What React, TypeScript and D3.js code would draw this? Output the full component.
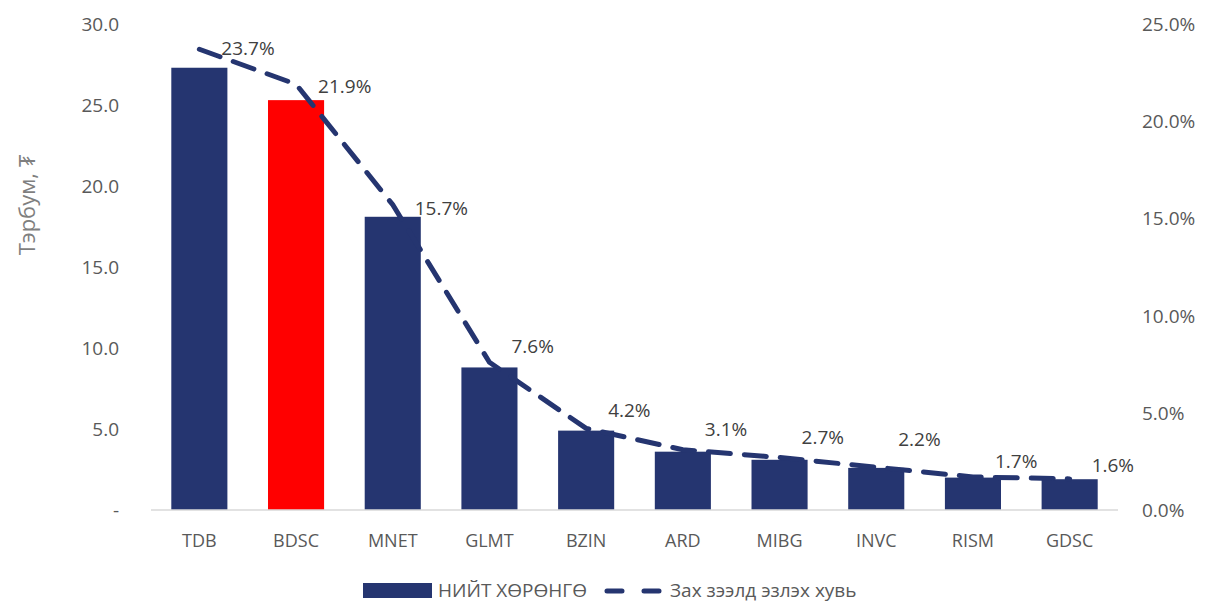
import * as d3 from 'd3';
import React from 'react';

const categories = ['TDB', 'BDSC', 'MNET', 'GLMT', 'BZIN', 'ARD', 'MIBG', 'INVC', 'RISM', 'GDSC'];
const totalAssets = [27.3, 25.3, 18.1, 8.8, 4.9, 3.6, 3.1, 2.6, 2.0, 1.9];
const marketShare = [23.7, 21.9, 15.7, 7.6, 4.2, 3.1, 2.7, 2.2, 1.7, 1.6];
const leftTicks = [0, 5, 10, 15, 20, 25, 30];
const rightTicks = [0, 5, 10, 15, 20, 25];
const highlight = 'BDSC';

const W = 1209;
const H = 603;
const navy = '#253570';
const font = '"Open Sans", "Noto Sans", sans-serif';

// label nudges, Excel places them a bit differently per point
const labelDy = [5, 8, 9, -10, -12, -15, -15, -22, -10, -8];

const App = () => {
  const x = d3.scaleBand<string>().domain(categories).range([151, 1118]).paddingInner(0.42).paddingOuter(0.21);
  const yL = d3.scaleLinear().domain([0, 30]).range([510, 24]);
  const yR = d3.scaleLinear().domain([0, 25]).range([510, 24]);
  const cx = (c: string) => (x(c) ?? 0) + x.bandwidth() / 2;

  const line = d3.line<number>()
    .x((_, i) => cx(categories[i]))
    .y(d => yR(d));

  return (
    <svg width={W} height={H} style={{position: 'absolute', left: 0, top: 0, fontFamily: font}}>
      <rect width={W} height={H} fill="#fff" />
      {/* left axis */}
      {leftTicks.map(t => (
        <text key={'l' + t} x={119} y={yL(t) + 7} textAnchor="end" fontSize={19} fill="#595959">
          {t === 0 ? '-' : t.toFixed(1)}
        </text>
      ))}
      {/* right axis */}
      {rightTicks.map(t => (
        <text key={'r' + t} x={1142} y={yR(t) + 7} textAnchor="start" fontSize={19} fill="#595959">
          {t.toFixed(1) + '%'}
        </text>
      ))}
      <text transform={`translate(35,205) rotate(-90)`} textAnchor="middle" fontSize={22} fill="#7f7f7f">
        Тэрбум, ₮
      </text>
      {/* bars */}
      {categories.map((c, i) => (
        <rect key={c} x={x(c)} y={yL(totalAssets[i])} width={x.bandwidth()} height={yL(0) - yL(totalAssets[i])}
              fill={c === highlight ? '#ff0000' : navy} />
      ))}
      <line x1={151} x2={1118} y1={yL(0)} y2={yL(0)} stroke="#d9d9d9" strokeWidth={1.5} />
      {/* line */}
      <path d={line(marketShare) ?? ''} fill="none" stroke={navy} strokeWidth={5}
            strokeDasharray="22 14" strokeLinecap="round" />
      {marketShare.map((v, i) => (
        <text key={'v' + i} x={cx(categories[i]) + 22} y={yR(v) + labelDy[i] + 1} fontSize={19} fill="#404040">
          {v.toFixed(1) + '%'}
        </text>
      ))}
      {/* categories */}
      {categories.map(c => (
        <text key={'c' + c} x={cx(c)} y={547} textAnchor="middle" fontSize={18} fill="#595959">{c}</text>
      ))}
      {/* legend */}
      <rect x={363} y={583} width={69} height={15} fill={navy} />
      <text x={438} y={597} fontSize={19} fill="#595959">НИЙТ ХӨРӨНГӨ</text>
      <line x1={607} x2={660} y1={591} y2={591} stroke={navy} strokeWidth={5} strokeLinecap="round" strokeDasharray="15 22" />
      <text x={670} y={597} fontSize={19} fill="#595959">Зах зээлд эзлэх хувь</text>
    </svg>
  );
};

export default App;
